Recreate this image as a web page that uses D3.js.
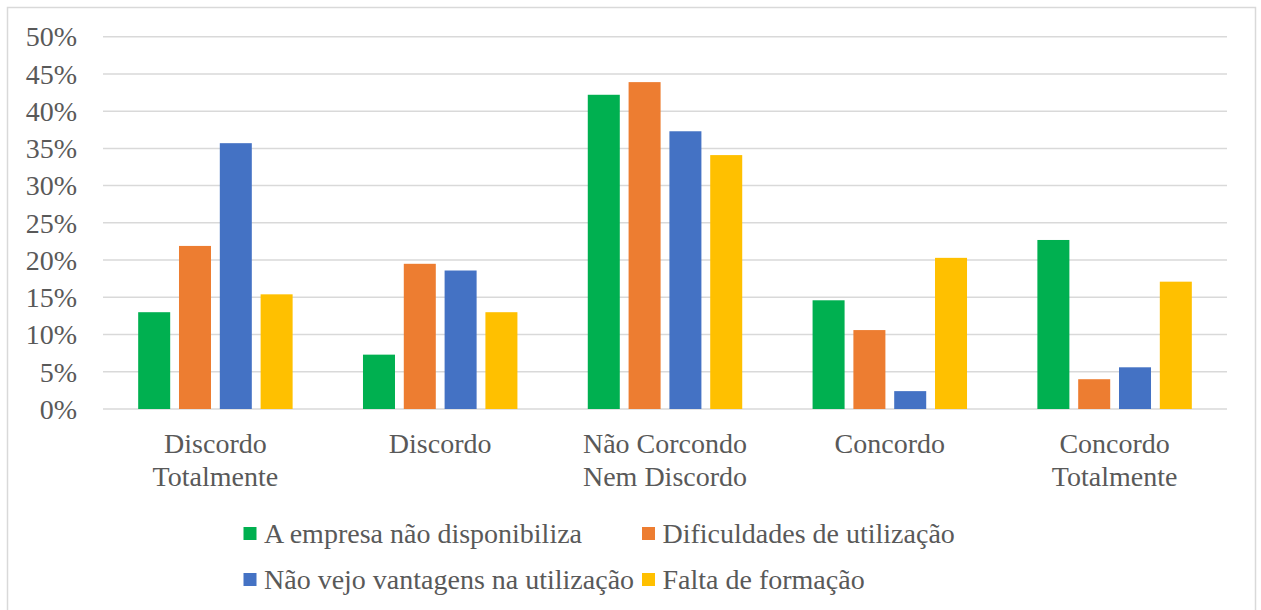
<!DOCTYPE html>
<html>
<head>
<meta charset="utf-8">
<script src="https://cdn.jsdelivr.net/npm/d3@7"></script>
<style>
  html, body { margin: 0; padding: 0; background: #fff; }
  svg { display: block; }
  text { font-family: "Liberation Serif", "Times New Roman", serif; fill: #595959; }
</style>
</head>
<body>
<svg id="chart" width="1261" height="610"></svg>
<script>
// Answer categories (multi-line labels)
const categories = [
  ["Discordo", "Totalmente"],
  ["Discordo"],
  ["Não Corcondo", "Nem Discordo"],
  ["Concordo"],
  ["Concordo", "Totalmente"]
];
const seriesNames = [
  "A empresa não disponibiliza",
  "Dificuldades de utilização",
  "Não vejo vantagens na utilização",
  "Falta de formação"
];
const seriesColors = ["#00B050", "#ED7D31", "#4472C4", "#FFC000"];

// Percentages per series, one value per category
const empresaNaoDisponibiliza = [13.0, 7.3, 42.2, 14.6, 22.7];
const dificuldadesUtilizacao  = [21.9, 19.5, 43.9, 10.6, 4.0];
const naoVejoVantagens        = [35.7, 18.6, 37.3, 2.4, 5.6];
const faltaFormacao           = [15.4, 13.0, 34.1, 20.3, 17.1];
const seriesValues = [empresaNaoDisponibiliza, dificuldadesUtilizacao, naoVejoVantagens, faltaFormacao];

const yTicks = [0, 5, 10, 15, 20, 25, 30, 35, 40, 45, 50];

const svg = d3.select("#chart");

// outer chart frame
svg.append("rect")
  .attr("x", 7.5).attr("y", 7.5)
  .attr("width", 1248).attr("height", 620)
  .attr("fill", "none").attr("stroke", "#d9d9d9").attr("stroke-width", 1.5);

const plot = { left: 103, right: 1227, top: 36.7, bottom: 409 };

const catIdx = categories.map((d, i) => i);
const x0 = d3.scaleBand().domain(catIdx).range([plot.left, plot.right]).paddingInner(0).paddingOuter(0);
const x1 = d3.scaleBand().domain(d3.range(seriesNames.length))
  .range([0, x0.bandwidth()]).paddingInner(0.2157).paddingOuter(0.862);
const y = d3.scaleLinear().domain([0, 50]).range([plot.bottom, plot.top]);

// gridlines
svg.append("g").selectAll("line").data(yTicks).join("line")
  .attr("x1", plot.left).attr("x2", plot.right)
  .attr("y1", d => y(d)).attr("y2", d => y(d))
  .attr("stroke", "#d9d9d9").attr("stroke-width", 1.5);

// y axis labels
const yAxis = d3.axisLeft(y).tickValues(yTicks).tickFormat(d => d + "%").tickSize(0).tickPadding(0);
const yg = svg.append("g").attr("transform", "translate(77,0)").call(yAxis);
yg.select(".domain").remove();
yg.selectAll("text")
  .attr("font-size", 28)
  .attr("font-family", "Liberation Serif, Times New Roman, serif")
  .attr("fill", "#595959")
  .attr("dy", "0.33em");

// bars
const groups = svg.append("g").selectAll("g").data(catIdx).join("g")
  .attr("transform", c => `translate(${x0(c)},0)`);
groups.selectAll("rect")
  .data(c => seriesValues.map((vals, s) => ({ s, v: vals[c] })))
  .join("rect")
  .attr("x", d => x1(d.s))
  .attr("width", x1.bandwidth())
  .attr("y", d => y(d.v))
  .attr("height", d => y(0) - y(d.v))
  .attr("fill", d => seriesColors[d.s]);

// category labels
const catG = svg.append("g");
categories.forEach((lines, c) => {
  const t = catG.append("text")
    .attr("x", x0(c) + x0.bandwidth() / 2)
    .attr("y", 453)
    .attr("text-anchor", "middle")
    .attr("font-size", 28);
  lines.forEach((ln, i) => {
    t.append("tspan").attr("x", x0(c) + x0.bandwidth() / 2).attr("y", 453 + i * 33).text(ln);
  });
});

// legend: two rows, two columns
const legendPos = [
  { x: 243.5, y: 543 },
  { x: 642, y: 543 },
  { x: 243.5, y: 589 },
  { x: 642, y: 589 }
];
const lg = svg.append("g").selectAll("g").data(seriesNames).join("g")
  .attr("transform", (d, i) => `translate(${legendPos[i].x},${legendPos[i].y})`);
lg.append("rect")
  .attr("x", 0).attr("y", -16).attr("width", 13).attr("height", 13)
  .attr("fill", (d, i) => seriesColors[i]);
lg.append("text")
  .attr("x", 20.5).attr("y", 0)
  .attr("font-size", 28)
  .text(d => d);
</script>
</body>
</html>
